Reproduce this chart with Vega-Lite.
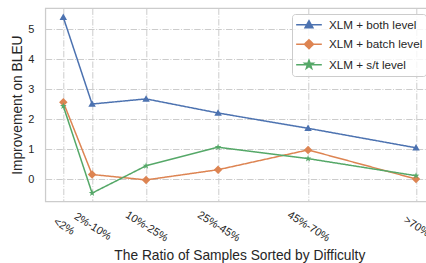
{
  "$schema": "https://vega.github.io/schema/vega-lite/v6.json",
  "width": 388,
  "height": 193.3,
  "autosize": "none",
  "padding": {"left": 45.3, "top": 8, "right": 0, "bottom": 61.7},
  "background": "white",
  "config": {
    "font": "Liberation Sans",
    "view": {"stroke": "#cccccc", "strokeWidth": 1.25},
    "axis": {
      "domain": false,
      "ticks": false,
      "tickSize": 0,
      "grid": true,
      "gridColor": "#cccccc",
      "gridDash": [6.4, 1.6, 1, 1.6],
      "gridWidth": 1,
      "labelFont": "Liberation Sans",
      "labelFontSize": 11,
      "labelColor": "#262626",
      "titleFont": "Liberation Sans",
      "titleFontSize": 13.8,
      "titleFontWeight": "normal",
      "titleColor": "#262626"
    }
  },
  "data": {
    "values": [
      {"ratio": 2, "method": "XLM + both level", "bleu": 5.40},
      {"ratio": 10, "method": "XLM + both level", "bleu": 2.51},
      {"ratio": 25, "method": "XLM + both level", "bleu": 2.68},
      {"ratio": 45, "method": "XLM + both level", "bleu": 2.21},
      {"ratio": 70, "method": "XLM + both level", "bleu": 1.70},
      {"ratio": 100, "method": "XLM + both level", "bleu": 1.05},
      {"ratio": 2, "method": "XLM + batch level", "bleu": 2.57},
      {"ratio": 10, "method": "XLM + batch level", "bleu": 0.16},
      {"ratio": 25, "method": "XLM + batch level", "bleu": -0.02},
      {"ratio": 45, "method": "XLM + batch level", "bleu": 0.32},
      {"ratio": 70, "method": "XLM + batch level", "bleu": 0.98},
      {"ratio": 100, "method": "XLM + batch level", "bleu": 0.01},
      {"ratio": 2, "method": "XLM + s/t level", "bleu": 2.44},
      {"ratio": 10, "method": "XLM + s/t level", "bleu": -0.46},
      {"ratio": 25, "method": "XLM + s/t level", "bleu": 0.45},
      {"ratio": 45, "method": "XLM + s/t level", "bleu": 1.07},
      {"ratio": 70, "method": "XLM + s/t level", "bleu": 0.69},
      {"ratio": 100, "method": "XLM + s/t level", "bleu": 0.12}
    ]
  },
  "encoding": {
    "x": {
      "field": "ratio",
      "type": "quantitative",
      "scale": {"domain": [-3, 104.8], "nice": false, "zero": false},
      "axis": {
        "values": [2, 10, 25, 45, 70, 100],
        "title": "The Ratio of Samples Sorted by Difficulty",
        "labelExpr": "datum.value == 2 ? '<2%' : datum.value == 10 ? '2%-10%' : datum.value == 25 ? '10%-25%' : datum.value == 45 ? '25%-45%' : datum.value == 70 ? '45%-70%' : '>70%'",
        "labelAngle": 32,
        "labelAlign": "center",
        "labelBaseline": "middle",
        "labelPadding": 25,
        "labelOverlap": false,
        "labelBound": false,
        "labelFlush": false,
        "titlePadding": 5
      }
    },
    "y": {
      "field": "bleu",
      "type": "quantitative",
      "scale": {"domain": [-0.733, 5.71], "nice": false, "zero": false},
      "axis": {
        "values": [0, 1, 2, 3, 4, 5],
        "title": "Improvement on BLEU",
        "labelPadding": 11.5,
        "titlePadding": 3
      }
    },
    "color": {
      "field": "method",
      "type": "nominal",
      "scale": {
        "domain": ["XLM + both level", "XLM + batch level", "XLM + s/t level"],
        "range": ["#4C72B0", "#DD8452", "#55A868"]
      },
      "legend": null
    }
  },
  "layer": [
    {
      "mark": {"type": "line", "strokeWidth": 1.5},
      "encoding": {
        "strokeDash": {
          "field": "method",
          "type": "nominal",
          "sort": null,
          "scale": {
            "range": [[1, 0], [1, 0], [1, 0]]
          },
          "legend": {
            "orient": "none",
            "legendX": 246.7,
            "legendY": 6,
            "title": null,
            "padding": 3.7,
            "symbolSize": 144,
            "symbolOffset": 6.3,
            "labelOffset": 13,
            "rowPadding": 4.5,
            "labelFontSize": 11.7,
            "labelFont": "Liberation Sans",
            "labelColor": "#262626",
            "labelLimit": 300,
            "strokeColor": "#cccccc",
            "fillColor": "rgba(255,255,255,0.8)",
            "cornerRadius": 3,
            "encode": {
              "symbols": {
                "update": {
                  "shape": {"signal": "datum.value == 'XLM + both level' ? 'M-2.14,0H2.14M0,-0.65L0.65,0.5H-0.65Z' : datum.value == 'XLM + batch level' ? 'M-2.14,0H2.14M0,-0.75L0.75,0L0,0.75L-0.75,0Z' : 'M-2.14,0H2.14M0,-0.75L0.176,-0.243L0.713,-0.232L0.285,0.093L0.441,0.607L0,0.3L-0.441,0.607L-0.285,0.093L-0.713,-0.232L-0.176,-0.243Z'"},
                  "stroke": {"signal": "scale('color', datum.value)"},
                  "fill": {"signal": "scale('color', datum.value)"},
                  "strokeWidth": {"value": 1.5},
                  "strokeOpacity": {"value": 1},
                  "fillOpacity": {"value": 1},
                  "opacity": {"value": 1}
                }
              }
            }
          }
        }
      }
    },
    {
      "mark": {"type": "point", "filled": true, "opacity": 1, "size": 100},
      "encoding": {
        "shape": {
          "field": "method",
          "type": "nominal",
          "scale": {
            "domain": ["XLM + both level", "XLM + batch level", "XLM + s/t level"],
            "range": [
              "M0,-0.75L0.75,0.55H-0.75Z",
              "M0,-0.85L0.85,0L0,0.85L-0.85,0Z",
              "M0,-0.7L0.165,-0.227L0.666,-0.216L0.266,0.087L0.411,0.566L0,0.28L-0.411,0.566L-0.266,0.087L-0.666,-0.216L-0.165,-0.227Z"
            ]
          },
          "legend": null
        }
      }
    }
  ]
}
